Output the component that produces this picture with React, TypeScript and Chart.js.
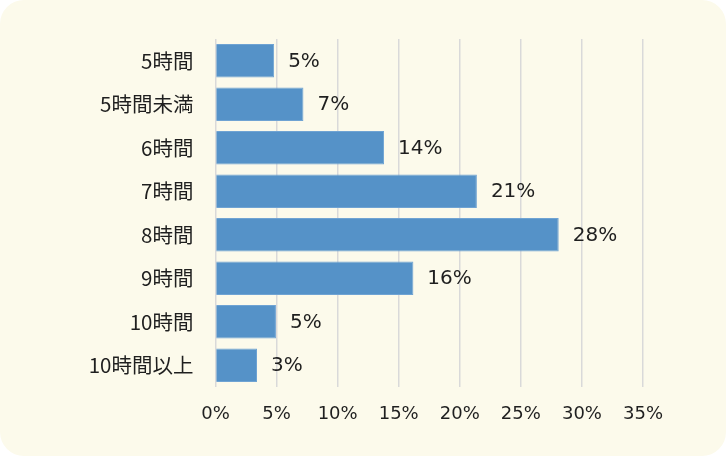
import { useEffect, useRef } from "react";
import { Chart, registerables } from "chart.js";

Chart.register(...registerables);

const categories = ["5時間", "5時間未満", "6時間", "7時間", "8時間", "9時間", "10時間", "10時間以上"];
const shares = [4.8, 7.2, 13.8, 21.4, 28.1, 16.2, 4.95, 3.4];
const xTicks = [0, 5, 10, 15, 20, 25, 30, 35];

const TEXT = "#1F1F1F";
const LATIN = "'DejaVu Sans', 'Noto Sans CJK JP', sans-serif";

const valueLabels = {
  id: "valueLabels",
  afterDatasetsDraw(chart: Chart) {
    const ctx = chart.ctx;
    const meta = chart.getDatasetMeta(0);
    ctx.save();
    ctx.font = `20px ${LATIN}`;
    ctx.fillStyle = TEXT;
    ctx.textAlign = "left";
    ctx.textBaseline = "middle";
    meta.data.forEach((bar: any, i: number) => {
      ctx.fillText(`${Math.round(shares[i])}%`, bar.x + 14, bar.y + 1);
    });
    ctx.restore();
  },
};

export default function App() {
  const canvasRef = useRef<HTMLCanvasElement>(null);

  useEffect(() => {
    document.body.style.margin = "0";
    if (!canvasRef.current) return;

    const chart = new Chart(canvasRef.current, {
      type: "bar",
      data: {
        labels: categories,
        datasets: [
          {
            data: shares,
            backgroundColor: "#5592C8",
            borderColor: "#6FA3D3",
            borderWidth: 1,
            categoryPercentage: 1,
            barPercentage: 0.77,
          },
        ],
      },
      options: {
        indexAxis: "y",
        animation: false,
        responsive: true,
        maintainAspectRatio: false,
        layout: { padding: { left: 0, right: 83, top: 39, bottom: 29 } },
        plugins: {
          legend: { display: false },
          tooltip: { enabled: false },
        },
        scales: {
          x: {
            min: 0,
            max: 35,
            afterBuildTicks: (scale: any) => {
              scale.ticks = xTicks.map((v) => ({ value: v }));
            },
            afterFit: (scale: any) => {
              scale.height = 40;
            },
            grid: { color: "#D9D9D9", lineWidth: 1.5, drawTicks: false },
            border: { display: false },
            ticks: {
              padding: 17,
              color: TEXT,
              font: { family: LATIN, size: 18 },
              callback: (v: any) => `${v}%`,
            },
          },
          y: {
            afterFit: (scale: any) => {
              scale.width = 215.5;
            },
            grid: { display: false, drawTicks: false },
            border: { display: false },
            ticks: {
              padding: 22,
              color: TEXT,
              font: { family: "'Noto Sans CJK JP', sans-serif", size: 20.5 },
            },
          },
        },
      },
      plugins: [valueLabels],
    });

    return () => {
      chart.destroy();
    };
  }, []);

  return (
    <div
      style={{
        width: 726,
        height: 456,
        background: "#FCFAEB",
        borderRadius: 24,
        position: "relative",
      }}
    >
      <canvas ref={canvasRef} />
    </div>
  );
}
